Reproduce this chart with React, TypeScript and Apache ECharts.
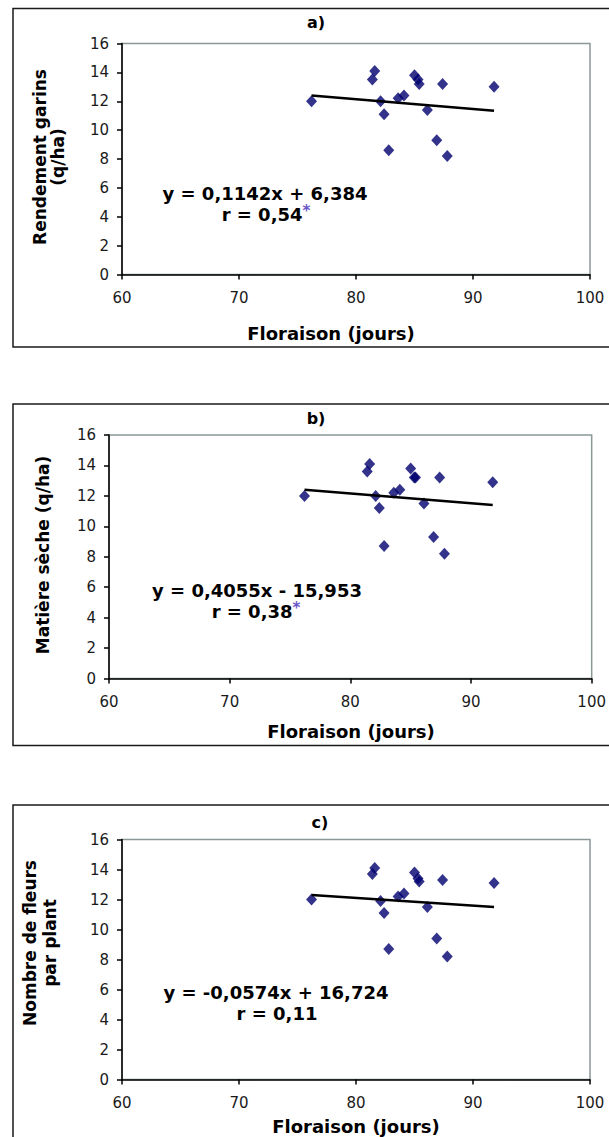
import React, { useEffect, useRef } from "react";
import * as echarts from "echarts";

// Floraison (jours) — shared x values
const floraison = [76.2, 81.4, 81.6, 82.1, 82.4, 82.8, 83.6, 84.1, 85.0, 85.3, 85.4, 86.1, 86.9, 87.4, 87.8, 91.8];
// a) Rendement grains (q/ha)
const rendementGrains = [12.0, 13.5, 14.1, 12.0, 11.1, 8.6, 12.2, 12.4, 13.8, 13.5, 13.2, 11.4, 9.3, 13.2, 8.2, 13.0];
// b) Matière sèche (q/ha)
const matiereSeche = [12.0, 13.6, 14.1, 12.0, 11.2, 8.7, 12.2, 12.4, 13.8, 13.2, 13.2, 11.5, 9.3, 13.2, 8.2, 12.9];
// c) Nombre de fleurs par plant
const nombreFleurs = [12.0, 13.7, 14.1, 11.9, 11.1, 8.7, 12.2, 12.4, 13.8, 13.4, 13.2, 11.5, 9.4, 13.3, 8.2, 13.1];

// Trend line end points (as drawn)
const trendX = [76.2, 91.8];
const trendA = [12.4, 11.35];
const trendB = [12.4, 11.4];
const trendC = [12.3, 11.5];

const panelTitles = ["a)", "b)", "c)"];
const yTitles = [["Rendement garins", "(q/ha)"], ["Matière sèche (q/ha)"], ["Nombre de fleurs", "par plant"]];
const xTitle = "Floraison (jours)";
const equations = ["y = 0,1142x + 6,384", "y = 0,4055x - 15,953", "y = -0,0574x + 16,724"];
const rValues = ["r = 0,54", "r = 0,38", "r = 0,11"];
const rStars = ["*", "*", ""];

const X_MIN = 60, X_MAX = 100, X_STEP = 10;
const Y_MIN = 0, Y_MAX = 16, Y_STEP = 2;

const FONT = "DejaVu Sans, Verdana, sans-serif";

// layout (pixels)
const grids = [
  { left: 122, top: 43.5, width: 468, height: 231 },
  { left: 109, top: 435, width: 486, height: 243.5 },
  { left: 122, top: 839.5, width: 468, height: 240 },
];
const frames = [
  { y: 8.5, h: 338.5 },
  { y: 404, h: 341.5 },
  { y: 805, h: 400 },
];
const titlePos = [{ x: 316, y: 22 }, { x: 316, y: 418 }, { x: 320, y: 822 }];
const xTitlePos = [{ x: 331, y: 333 }, { x: 351, y: 731 }, { x: 356, y: 1126 }];
const yTitlePos = [
  [{ x: 40, y: 157 }, { x: 58, y: 157 }],
  [{ x: 43, y: 555 }],
  [{ x: 30, y: 943 }, { x: 50, y: 943 }],
];
const eqPos = [
  [{ x: 265, y: 193 }, { x: 266, y: 214 }],
  [{ x: 257, y: 590 }, { x: 256, y: 611 }],
  [{ x: 276, y: 992 }, { x: 277, y: 1013 }],
];

export default function App() {
  const ref = useRef<HTMLDivElement>(null);
  useEffect(() => {
    if (!ref.current) return;
    const chart = echarts.init(ref.current, null, { renderer: "svg" });
    const ySets = [rendementGrains, matiereSeche, nombreFleurs];
    const trends = [trendA, trendB, trendC];

    const xAxis = grids.map((_, i) => ({
      type: "value",
      gridIndex: i,
      min: X_MIN,
      max: X_MAX,
      interval: X_STEP,
      axisLine: { show: true, onZero: false, lineStyle: { color: "#000", width: 1.5 } },
      axisTick: { show: true, inside: false, length: 5, lineStyle: { color: "#000", width: 1.5 } },
      axisLabel: { color: "#1a1a1a", fontSize: 15, fontFamily: FONT, margin: 16 },
      splitLine: { show: false },
    }));
    const yAxis = grids.map((_, i) => ({
      type: "value",
      gridIndex: i,
      min: Y_MIN,
      max: Y_MAX,
      interval: Y_STEP,
      axisLine: { show: true, onZero: false, lineStyle: { color: "#000", width: 1.5 } },
      axisTick: { show: true, inside: false, length: 5, lineStyle: { color: "#000", width: 1.5 } },
      axisLabel: { color: "#1a1a1a", fontSize: 15, fontFamily: FONT, margin: 13 },
      splitLine: { show: false },
    }));

    const series: any[] = [];
    grids.forEach((_, i) => {
      series.push({
        type: "scatter",
        xAxisIndex: i,
        yAxisIndex: i,
        symbol: "diamond",
        symbolSize: [11, 12],
        itemStyle: { color: "#00006e" },
        data: floraison.map((x, k) => [x, ySets[i][k]]),
        z: 3,
      });
      series.push({
        type: "line",
        xAxisIndex: i,
        yAxisIndex: i,
        symbol: "none",
        lineStyle: { color: "#000", width: 2.5 },
        data: trendX.map((x, k) => [x, trends[i][k]]),
        z: 4,
      });
    });

    const graphic: any[] = [];
    frames.forEach((f) => {
      graphic.push({
        type: "rect",
        shape: { x: 13, y: f.y, width: 620, height: f.h },
        style: { fill: "none", stroke: "#1a1a1a", lineWidth: 1.5 },
        silent: true,
        z: 0,
      });
    });
    const txt = (text: string, x: number, y: number, size: number, rot = 0, extra: any = {}) => ({
      type: "text",
      x,
      y,
      rotation: rot,
      style: {
        text,
        fill: "#000",
        font: `bold ${size}px ${FONT}`,
        textAlign: "center",
        textVerticalAlign: "middle",
        ...extra,
      },
      silent: true,
      z: 10,
    });
    panelTitles.forEach((t, i) => graphic.push(txt(t, titlePos[i].x, titlePos[i].y, 16)));
    xTitlePos.forEach((p) => graphic.push(txt(xTitle, p.x, p.y, 18)));
    yTitles.forEach((lines, i) =>
      lines.forEach((l, j) => graphic.push(txt(l, yTitlePos[i][j].x, yTitlePos[i][j].y, 17, Math.PI / 2)))
    );
    equations.forEach((e, i) => {
      graphic.push(txt(e, eqPos[i][0].x, eqPos[i][0].y, 18));
      graphic.push({
        type: "text",
        x: eqPos[i][1].x,
        y: eqPos[i][1].y,
        style: {
          text: `{a|${rValues[i]}}{s|${rStars[i]}}`,
          textAlign: "center",
          textVerticalAlign: "middle",
          rich: {
            a: { font: `bold 18px ${FONT}`, fill: "#000" },
            s: { font: `bold 15px ${FONT}`, fill: "#6a55c8", verticalAlign: "top", padding: [0, 0, 6, 0] },
          },
        },
        silent: true,
        z: 10,
      });
    });

    chart.setOption({
      animation: false,
      backgroundColor: "#fff",
      grid: grids.map((g) => ({
        left: g.left,
        top: g.top,
        width: g.width,
        height: g.height,
        show: true,
        borderColor: "#8a9898",
        borderWidth: 1.5,
        backgroundColor: "transparent",
        containLabel: false,
      })),
      xAxis,
      yAxis,
      series,
      graphic,
    });
    return () => chart.dispose();
  }, []);
  return (
    <div
      ref={ref}
      style={{ position: "absolute", left: 0, top: 0, width: 609, height: 1137, background: "#fff" }}
    />
  );
}
